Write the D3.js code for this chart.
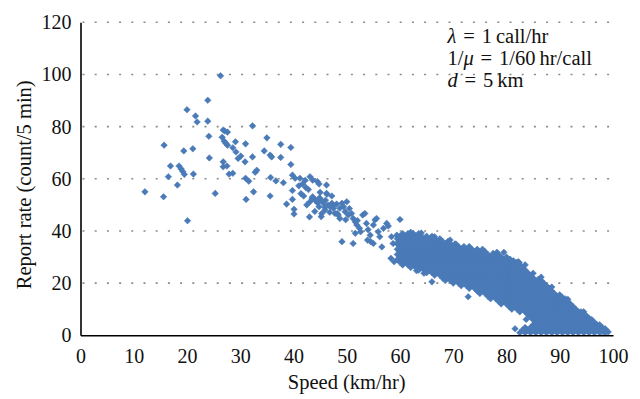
<!DOCTYPE html>
<html>
<head>
<meta charset="utf-8">
<script src="https://cdn.jsdelivr.net/npm/d3@7"></script>
<style>
  body { margin: 0; background: #fff; }
</style>
</head>
<body>
<div id="chart"></div>
<script>
// Axis ticks
const xTicks = [0, 10, 20, 30, 40, 50, 60, 70, 80, 90, 100];
const yTicks = [0, 20, 40, 60, 80, 100, 120];

// Scattered reports at low speed, [speed, rate]
const sparsePoints = [
  [12.1, 55.0], [15.7, 72.9], [15.6, 53.1], [16.5, 60.8], [16.9, 64.9], [18.2, 57.6],
  [18.5, 64.9], [18.9, 63.8], [19.2, 62.8], [19.5, 61.7], [19.4, 70.7], [20.0, 86.5],
  [20.1, 43.9], [21.1, 71.5], [21.2, 61.8], [21.6, 84.1], [21.9, 81.8], [23.9, 90.1],
  [23.9, 82.1], [24.1, 76.3], [24.2, 68.0], [25.3, 54.4], [26.3, 99.5], [26.6, 75.9],
  [26.8, 66.5], [26.8, 64.6], [27.5, 64.9], [26.8, 78.7], [27.1, 78.3], [27.6, 77.9],
  [27.0, 74.4], [27.3, 73.6], [27.6, 72.9], [27.9, 61.8], [28.6, 62.1], [28.6, 71.9],
  [29.1, 74.2], [29.2, 70.3], [29.6, 67.8], [30.1, 68.7], [30.9, 66.5], [31.0, 73.4],
  [31.0, 60.2], [31.6, 59.1], [31.1, 52.1], [32.3, 80.3], [32.3, 68.4], [32.5, 55.0],
  [32.8, 62.5], [33.1, 63.3], [34.5, 70.7], [35.0, 75.7], [35.6, 69.1], [35.9, 68.4],
  [35.6, 53.4], [35.7, 60.5], [36.7, 59.2], [37.6, 73.2], [37.6, 68.2], [38.1, 58.5],
  [38.7, 50.3], [39.5, 72.0], [39.5, 65.5], [39.8, 61.4], [40.3, 60.2], [41.2, 60.2],
  [39.8, 55.5], [39.8, 52.1], [40.1, 48.3], [40.1, 46.5], [41.4, 54.3], [41.9, 53.4],
  [41.7, 58.0], [42.3, 56.7], [42.8, 55.9], [43.0, 45.4], [43.1, 60.8], [43.6, 59.5],
  [44.5, 58.9], [44.8, 58.0], [46.2, 57.6], [46.2, 54.4], [43.1, 51.2], [44.0, 52.1],
  [44.5, 50.8], [45.3, 51.6], [44.8, 49.3], [45.9, 49.0], [47.2, 53.4], [43.6, 53.1],
  [43.5, 52.5], [44.2, 51.6], [44.9, 52.7], [45.6, 50.6], [46.0, 51.8], [45.0, 54.8],
  [42.5, 50.0], [44.0, 47.5], [45.2, 45.5], [46.8, 47.2], [41.0, 57.3], [42.2, 59.4]
];

// Trail between 45 and 60 km/hr
const trailPoints = [
  [45.3, 46.7], [45.9, 48.0], [46.5, 49.9], [47.2, 50.6], [47.5, 48.7], [47.8, 46.7],
  [48.4, 46.1], [48.7, 48.7], [49.1, 50.6], [49.4, 49.3], [49.7, 47.4], [50.0, 51.2],
  [50.3, 46.1], [50.9, 46.7], [51.2, 44.8], [51.6, 43.5], [51.9, 42.3], [52.4, 41.0],
  [52.6, 39.7], [53.0, 46.1], [53.4, 46.7], [53.7, 42.9], [54.4, 38.4], [54.5, 35.9],
  [55.0, 42.3], [55.3, 44.2], [55.6, 44.8], [55.9, 39.7], [56.2, 37.8], [56.6, 33.9],
  [56.9, 41.0], [57.5, 42.9], [57.8, 41.9], [60.0, 44.4], [58.4, 37.8], [58.7, 35.2],
  [59.4, 38.4], [59.7, 35.9], [60.3, 36.8], [58.3, 29.5], [58.9, 28.2], [49.1, 35.9],
  [51.2, 35.2], [51.6, 39.1], [53.9, 36.5], [55.0, 35.2], [48.1, 50.3], [47.5, 49.9],
  [46.9, 49.3], [46.3, 54.1], [48.2, 46.7], [48.7, 44.8], [52.0, 44.0], [54.0, 40.5],
  [49.8, 44.3], [50.5, 48.6]
];

// Dense cluster, one column of report rates per half km/hr of speed
const clusterColumns = [
  [59.5, [29, 31, 33, 35, 37]],
  [60.0, [28, 30, 32, 34, 36, 38]],
  [60.5, [27, 29, 31, 33, 35, 37, 39]],
  [61.0, [28, 30, 32, 34, 36, 38]],
  [61.5, [27, 29, 31, 33, 35, 37, 39]],
  [62.0, [26, 28, 30, 32, 34, 36, 38]],
  [62.5, [27, 29, 31, 33, 35, 37, 39]],
  [63.0, [26, 28, 30, 32, 34, 36, 38]],
  [63.5, [25, 27, 29, 31, 33, 35, 37, 39]],
  [64.0, [26, 28, 30, 32, 34, 36, 38]],
  [64.5, [25, 27, 29, 31, 33, 35, 37]],
  [65.0, [24, 26, 28, 30, 32, 34, 36, 38]],
  [65.5, [25, 27, 29, 31, 33, 35, 37]],
  [66.0, [24, 26, 28, 30, 32, 34, 36, 38]],
  [66.5, [23, 25, 27, 29, 31, 33, 35, 37]],
  [67.0, [24, 26, 28, 30, 32, 34, 36]],
  [67.5, [23, 25, 27, 29, 31, 33, 35, 37]],
  [68.0, [22, 24, 26, 28, 30, 32, 34, 36]],
  [68.5, [21, 23, 25, 27, 29, 31, 33, 35]],
  [69.0, [22, 24, 26, 28, 30, 32, 34, 36]],
  [69.5, [21, 23, 25, 27, 29, 31, 33, 35]],
  [70.0, [20, 22, 24, 26, 28, 30, 32, 34]],
  [70.5, [21, 23, 25, 27, 29, 31, 33, 35]],
  [71.0, [20, 22, 24, 26, 28, 30, 32, 34]],
  [71.5, [19, 21, 23, 25, 27, 29, 31, 33]],
  [72.0, [20, 22, 24, 26, 28, 30, 32, 34]],
  [72.5, [19, 21, 23, 25, 27, 29, 31, 33]],
  [73.0, [18, 20, 22, 24, 26, 28, 30, 32, 34]],
  [73.5, [19, 21, 23, 25, 27, 29, 31, 33]],
  [74.0, [18, 20, 22, 24, 26, 28, 30, 32]],
  [74.5, [17, 19, 21, 23, 25, 27, 29, 31, 33]],
  [75.0, [16, 18, 20, 22, 24, 26, 28, 30, 32]],
  [75.5, [17, 19, 21, 23, 25, 27, 29, 31]],
  [76.0, [16, 18, 20, 22, 24, 26, 28, 30, 32]],
  [76.5, [15, 17, 19, 21, 23, 25, 27, 29, 31]],
  [77.0, [14, 16, 18, 20, 22, 24, 26, 28, 30]],
  [77.5, [15, 17, 19, 21, 23, 25, 27, 29, 31]],
  [78.0, [14, 16, 18, 20, 22, 24, 26, 28, 30]],
  [78.5, [13, 15, 17, 19, 21, 23, 25, 27, 29, 31]],
  [79.0, [12, 14, 16, 18, 20, 22, 24, 26, 28, 30]],
  [79.5, [13, 15, 17, 19, 21, 23, 25, 27, 29]],
  [80.0, [12, 14, 16, 18, 20, 22, 24, 26, 28, 30]],
  [80.5, [11, 13, 15, 17, 19, 21, 23, 25, 27, 29]],
  [81.0, [10, 12, 14, 16, 18, 20, 22, 24, 26, 28]],
  [81.5, [11, 13, 15, 17, 19, 21, 23, 25, 27]],
  [82.0, [10, 12, 14, 16, 18, 20, 22, 24, 26, 28]],
  [82.5, [1, 9, 11, 13, 15, 17, 19, 21, 23, 25, 27]],
  [83.0, [2, 10, 12, 14, 16, 18, 20, 22, 24, 26]],
  [83.5, [1, 3, 9, 11, 13, 15, 17, 19, 21, 23, 25]],
  [84.0, [2, 8, 10, 12, 14, 16, 18, 20, 22, 24]],
  [84.5, [1, 3, 7, 9, 11, 13, 15, 17, 19, 21, 23]],
  [85.0, [2, 4, 6, 8, 10, 12, 14, 16, 18, 20, 22]],
  [85.5, [1, 3, 5, 7, 9, 11, 13, 15, 17, 19, 21]],
  [86.0, [2, 4, 6, 8, 10, 12, 14, 16, 18, 20, 21.5]],
  [86.5, [1, 3, 5, 7, 9, 11, 13, 15, 17, 19, 21]],
  [87.0, [2, 4, 6, 8, 10, 12, 14, 16, 18, 20]],
  [87.5, [1, 3, 5, 7, 9, 11, 13, 15, 17, 19]],
  [88.0, [2, 4, 6, 8, 10, 12, 14, 16, 18]],
  [88.5, [1, 3, 5, 7, 9, 11, 13, 15, 17]],
  [89.0, [2, 4, 6, 8, 10, 12, 14, 16]],
  [89.5, [1, 3, 5, 7, 9, 11, 13, 15]],
  [90.0, [2, 4, 6, 8, 10, 12, 14, 15.5]],
  [90.5, [1, 3, 5, 7, 9, 11, 13, 14.5]],
  [91.0, [2, 4, 6, 8, 10, 12, 14]],
  [91.5, [1, 3, 5, 7, 9, 11, 13]],
  [92.0, [2, 4, 6, 8, 10, 12]],
  [92.5, [1, 3, 5, 7, 9, 11]],
  [93.0, [2, 4, 6, 8, 10]],
  [93.5, [1, 3, 5, 7, 9]],
  [94.0, [2, 4, 6, 8, 9]],
  [94.5, [1, 3, 5, 7, 8]],
  [95.0, [2, 4, 6, 7.5]],
  [95.5, [1, 3, 5, 6.5]],
  [96.0, [2, 4, 6]],
  [96.5, [1, 3, 5]],
  [97.0, [2, 4]],
  [97.5, [1, 3, 4]],
  [98.0, [1.5, 3]],
  [98.5, [1, 2.5]]
];

// Points on the edges of the cluster
const edgePoints = [
  [77.5, 31.4], [78.2, 31.8], [79.5, 31.8], [80.7, 29.1], [81.3, 28.6], [82.2, 28.2],
  [82.4, 27.8], [85.0, 23.8], [69.4, 36.5], [70.3, 35.0], [60.6, 29.1], [61.9, 28.2],
  [63.1, 24.8], [64.5, 23.8], [66.0, 20.5], [72.8, 14.8], [81.6, 2.5], [83.2, 1.8],
  [83.7, 6.1], [98.6, 2.2], [99.1, 1.3], [62.0, 39.5], [64.0, 39.2], [66.5, 37.8],
  [75.5, 33.0], [83.5, 27.0], [86.5, 22.3], [88.5, 18.5], [91.5, 13.8], [94.5, 9.0]
];

// Parameter note, italic parts flagged
const annotationLines = [
  [{ t: "λ", i: true }, { t: "\u2004=\u20041\u2009call/hr" }],
  [{ t: "1/" }, { t: "μ", i: true }, { t: "\u2004=\u20041/60\u2009hr/call" }],
  [{ t: "d", i: true }, { t: "\u2004=\u20045\u2009km" }]
];

const width = 640, height = 399;
const margin = { top: 22.3, right: 27, bottom: 63.7, left: 80.5 };
const markerColor = "#4a7ab7";
const serif = "'Liberation Serif', 'Times New Roman', serif";

const svg = d3.select("#chart").append("svg")
  .attr("width", width)
  .attr("height", height);

svg.append("rect").attr("width", width).attr("height", height).attr("fill", "#fff");

const x = d3.scaleLinear().domain([0, 100]).range([margin.left, width - margin.right]);
const y = d3.scaleLinear().domain([0, 120]).range([height - margin.bottom, margin.top]);

// Dotted gridlines
svg.append("g").selectAll("line")
  .data(yTicks.filter(d => d > 0))
  .enter().append("line")
  .attr("x1", x(0) + 2)
  .attr("x2", x(100) - 2)
  .attr("y1", d => y(d))
  .attr("y2", d => y(d))
  .attr("stroke", "#8a8a8a")
  .attr("stroke-width", 1.6)
  .attr("stroke-dasharray", "2,10.2");

// Collect every point
let points = sparsePoints.concat(trailPoints, edgePoints);
clusterColumns.forEach(c => c[1].forEach(r => points.push([c[0], r])));

const r = 3.3;
svg.append("g").selectAll("path")
  .data(points)
  .enter().append("path")
  .attr("d", `M0,${-r}L${r},0L0,${r}L${-r},0Z`)
  .attr("transform", d => `translate(${x(d[0])},${y(d[1])})`)
  .attr("fill", markerColor)
  .attr("stroke", markerColor)
  .attr("stroke-width", 0.5);

// Axes
const xAxis = d3.axisBottom(x).tickValues(xTicks).tickSize(0).tickPadding(14);
const yAxis = d3.axisLeft(y).tickValues(yTicks).tickSize(0).tickPadding(9);

const gx = svg.append("g")
  .attr("transform", `translate(0,${y(0)})`)
  .call(xAxis);
const gy = svg.append("g")
  .attr("transform", `translate(${x(0)},0)`)
  .call(yAxis);

[gx, gy].forEach(g => {
  g.select(".domain").attr("stroke", "#000").attr("stroke-width", 1.6);
  g.selectAll("text")
    .style("font-family", serif)
    .style("font-size", "20px")
    .style("fill", "#111");
});

// Axis titles
svg.append("text")
  .attr("x", (x(0) + x(100)) / 2)
  .attr("y", 389)
  .attr("text-anchor", "middle")
  .style("font-family", serif)
  .style("font-size", "20.5px")
  .style("fill", "#111")
  .text("Speed (km/hr)");

svg.append("text")
  .attr("transform", `translate(31,${(y(0) + y(120)) / 2 + 6}) rotate(-90)`)
  .attr("text-anchor", "middle")
  .style("font-family", serif)
  .style("font-size", "20.5px")
  .style("fill", "#111")
  .text("Report rate (count/5 min)");

const note = svg.append("text")
  .style("font-family", serif)
  .style("font-size", "20.5px")
  .style("fill", "#111");
annotationLines.forEach((line, i) => {
  line.forEach((part, j) => {
    const span = note.append("tspan").text(part.t);
    if (j === 0) span.attr("x", 447.5).attr("y", 43 + i * 22);
    if (part.i) span.style("font-style", "italic");
  });
});
</script>
</body>
</html>
